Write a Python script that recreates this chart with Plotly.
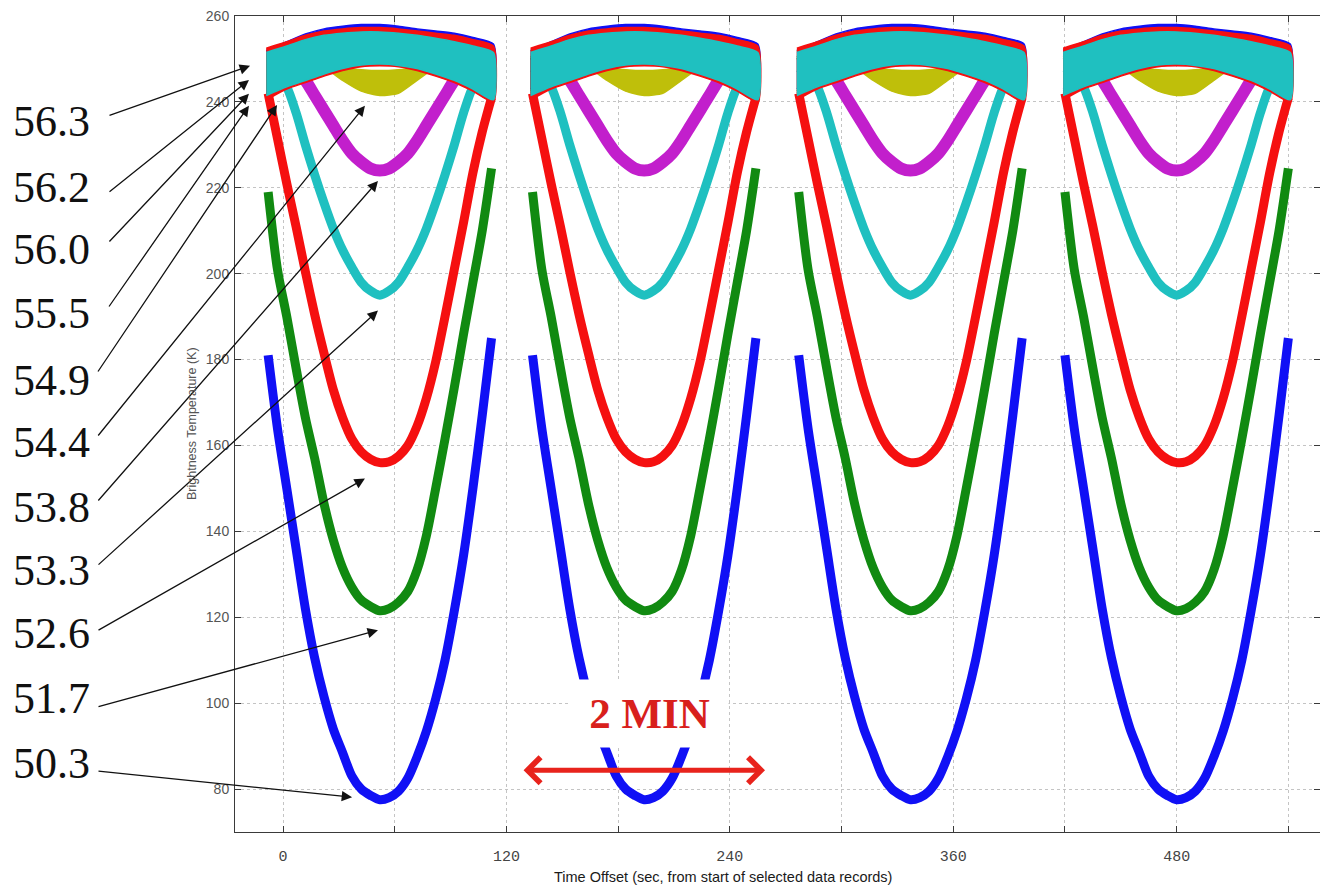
import plotly.graph_objects as go

# ---------------------------------------------------------------------------
# Cross-track scans of an oxygen-band microwave sounder (brightness temperature)
# ---------------------------------------------------------------------------

# centre time of each of the four scans (s from start of selected records)
SCAN_CENTERS = [52, 194, 337, 480]

# sample offsets inside a scan (s, relative to scan centre)
SCAN_OFFSETS = [-60, -55, -50, -45, -40, -35, -30, -25, -20, -15, -10, -5, 0,
                5, 10, 15, 20, 25, 30, 35, 40, 45, 50, 55, 60]
BAND_OFFSETS = [-61, -50, -40, -30, -20, -10, 0, 10, 20, 30, 40, 50, 61]

# window / lower-troposphere channels (K), one value per SCAN_OFFSETS entry
TB_50_3 = [181, 164, 150, 136, 122, 110.5, 101.5, 94, 88.5, 83, 80, 78.5, 77.5,
           78, 79.5, 82.5, 87.5, 93.5, 101, 110, 121.5, 134.5, 150, 167, 185]
TB_51_7 = [219, 201, 190, 178, 166.5, 157, 146.5, 138, 131.5, 127, 124, 122.5, 121.5,
           122, 123.5, 126, 131, 139, 150, 161.5, 173.5, 186, 198, 210, 224.5]
TB_52_6 = [242, 231.5, 221, 211, 200.5, 190.5, 181.5, 173, 166.5, 161.5, 158.5, 156.8, 156,
           156.2, 157.5, 160, 164.5, 171, 179.5, 190, 201, 212, 223.5, 233, 241]
TB_53_3 = [248, 246.5, 243.5, 237.5, 230, 223, 216.5, 210.5, 205.5, 201.5, 198, 196, 195,
           196, 198, 201.5, 205.5, 210.5, 216.5, 223, 230, 237.5, 243.5, 246.5, 248]
TB_53_8 = [250.5, 250, 249, 247.5, 245, 241.5, 238, 234.5, 231, 228, 226, 224.5, 224,
           224.5, 226, 228, 231, 234.5, 238, 241.5, 245, 247.5, 249, 250, 251]

# upper-air channels (K): spread of the noisy samples, one pair per BAND_OFFSETS entry
TB_54_4_LO = [250, 249.5, 249, 248, 245, 242.5, 241.5, 242, 245, 248, 249, 249.5, 250]
TB_54_4_HI = [252, 251, 250, 249, 248, 247.5, 247.3, 247.5, 248, 249, 250, 251, 252]
TB_54_9_LO = [242, 244.2, 245.8, 247.2, 248.4, 249, 249.2, 249, 248.4, 247.2, 245.6, 243.6, 241.2]
TB_54_9_HI = [250, 252, 253.5, 254.5, 255, 255.3, 255.3, 255, 254.5, 254, 253, 252, 250.5]
TB_55_5_LO = [243, 245, 246.5, 248, 249, 249.5, 249.5, 249.5, 249, 248, 246.5, 245, 243]
TB_55_5_HI = [252, 254, 255.8, 257, 257.6, 258, 258, 257.6, 257, 256.5, 256, 255, 253.5]
TB_56_0_LO = [242.5, 244.5, 246, 247.5, 248.5, 249, 249.2, 249, 248.5, 247.5, 246, 244, 242]
TB_56_0_HI = [250.5, 252.5, 254, 255, 255.5, 255.8, 255.8, 255.5, 255, 254.3, 253.5, 252.5, 251]
TB_56_2_LO = [240.5, 243, 244.5, 246, 247.3, 248.2, 248.4, 248.2, 247.3, 246, 244.5, 242.5, 240]
TB_56_2_HI = [252.5, 254, 255.5, 256.5, 257, 257.3, 257.3, 257, 256.5, 256, 255.5, 254.5, 253]
TB_56_3_LO = [241.5, 243.5, 245, 246.5, 247.8, 248.6, 248.8, 248.5, 247.8, 246.5, 245, 243, 240.5]
TB_56_3_HI = [251.5, 253, 254.5, 255.5, 256, 256.3, 256.3, 256, 255.5, 254.8, 254, 253, 251.5]

CHANNEL_LABELS = ["50.3", "51.7", "52.6", "53.3", "53.8", "54.4",
                  "54.9", "55.5", "56.0", "56.2", "56.3"]

# where each channel's callout arrow points (time s, K)
CALLOUT_T = [37.1, 51.0, 44.0, 51.0, 51.0, 44.0, -3.2, -18.3, -18.3, -18.3, -17.7]
CALLOUT_TB = [78.1, 117.0, 152.3, 191.4, 221.6, 239.1, 239.3, 239.1, 241.9, 245.1, 248.4]

TWO_MIN_SPAN = [128.4, 258.9]     # s, extent of the "2 MIN" scale arrow
TWO_MIN_LEVEL = 84.4              # K

X_TICKS = [0, 60, 120, 180, 240, 300, 360, 420, 480, 540]
X_TICK_TEXT = ["0", "", "120", "", "240", "", "360", "", "480", ""]
Y_TICKS = [80, 100, 120, 140, 160, 180, 200, 220, 240, 260]

# ---------------------------------------------------------------------------
# styling
# ---------------------------------------------------------------------------
BLUE, GREEN, RED = "#1010f5", "#118a11", "#f51010"
CYAN, MAGENTA, YELLOW, BLACK = "#1fc0c0", "#c21fcc", "#bfbf0a", "#202020"

FIG_W, FIG_H = 1320, 886
PL, PT, PW, PH = 235, 16, 1085, 816          # plot-area box in pixels
X_RANGE = [-25.8, 557.0]
Y_RANGE = [70, 260]


def to_px(t, tb):
    px = PL + (t - X_RANGE[0]) / (X_RANGE[1] - X_RANGE[0]) * PW
    py = PT + (Y_RANGE[1] - tb) / (Y_RANGE[1] - Y_RANGE[0]) * PH
    return px, py


def paper_x(px):
    return (px - PL) / PW


def paper_y(py):
    return (PT + PH - py) / PH


fig = go.Figure()


def add_line_channel(values, color, width):
    xs, ys = [], []
    for c in SCAN_CENTERS:
        xs += [c + o for o in SCAN_OFFSETS] + [None]
        ys += list(values) + [None]
    fig.add_trace(go.Scatter(
        x=xs, y=ys, mode="lines",
        line=dict(color=color, width=width, shape="spline", smoothing=0.8),
        hoverinfo="skip", showlegend=False))


def add_band_channel(lo, hi, color):
    for c in SCAN_CENTERS:
        xs = [c + o for o in BAND_OFFSETS]
        fig.add_trace(go.Scatter(
            x=xs + xs[::-1], y=list(hi) + list(lo)[::-1],
            mode="lines", fill="toself", fillcolor=color,
            line=dict(color=color, width=1.5, shape="spline", smoothing=0.6),
            hoverinfo="skip", showlegend=False))


# channels in plotting order (later ones drawn on top)
add_line_channel(TB_50_3, BLUE, 9)
add_line_channel(TB_51_7, GREEN, 9)
add_line_channel(TB_52_6, RED, 9)
add_line_channel(TB_53_3, CYAN, 9)
add_line_channel(TB_53_8, MAGENTA, 12)
add_band_channel(TB_54_4_LO, TB_54_4_HI, YELLOW)
add_band_channel(TB_54_9_LO, TB_54_9_HI, BLACK)
add_band_channel(TB_55_5_LO, TB_55_5_HI, BLUE)
add_band_channel(TB_56_0_LO, TB_56_0_HI, GREEN)
add_band_channel(TB_56_2_LO, TB_56_2_HI, RED)
add_band_channel(TB_56_3_LO, TB_56_3_HI, CYAN)

annotations = []

# channel frequency labels (GHz) with arrows to their curves
LABEL_LEFT_PX = 11
LABEL_CENTER_PY = [763, 698, 633, 570, 507, 443, 380, 313, 250, 187, 122]
ARROW_TAIL_PX = [(97, 771), (97, 707), (97, 631), (97, 566), (97, 502), (97, 437),
                 (97, 373), (108, 308), (108, 243), (108, 193), (108, 116)]

for lab, cy, tail, ht, htb in zip(CHANNEL_LABELS, LABEL_CENTER_PY, ARROW_TAIL_PX,
                                   CALLOUT_T, CALLOUT_TB):
    annotations.append(dict(
        text=lab, xref="paper", yref="paper",
        x=paper_x(LABEL_LEFT_PX), y=paper_y(cy),
        xanchor="left", yanchor="middle", showarrow=False,
        font=dict(family="Liberation Serif", size=44, color="#111111")))
    hx, hy = to_px(ht, htb)
    annotations.append(dict(
        text="", xref="x", yref="y", x=ht, y=htb,
        ax=tail[0] - hx, ay=tail[1] - hy, axref="pixel", ayref="pixel",
        showarrow=True, arrowhead=2, arrowsize=1.6, arrowwidth=1.3,
        arrowcolor="#111111", standoff=0))

# "2 MIN" scale bar
annotations.append(dict(
    text="", xref="x", yref="y", x=TWO_MIN_SPAN[1], y=TWO_MIN_LEVEL,
    ax=TWO_MIN_SPAN[0], ay=TWO_MIN_LEVEL, axref="x", ayref="y",
    showarrow=True, arrowside="end+start", arrowhead=4, startarrowhead=4,
    arrowsize=1, startarrowsize=1, arrowwidth=5, arrowcolor="#e8231c"))
annotations.append(dict(
    text="<b>2 MIN</b>", xref="x", yref="y",
    x=sum(TWO_MIN_SPAN) / 2 + 3, y=97.7, showarrow=False,
    xanchor="center", yanchor="middle",
    bgcolor="white", borderpad=10, width=137,
    font=dict(family="Liberation Serif", size=43, color="#d8201c")))

# axis titles
annotations.append(dict(
    text="Time Offset (sec, from start of selected data records)",
    xref="paper", yref="paper", x=paper_x(723), y=paper_y(877),
    xanchor="center", yanchor="middle", showarrow=False,
    font=dict(family="Liberation Sans", size=14.5, color="#1a1a1a")))
annotations.append(dict(
    text="Brightness Temperature (K)", textangle=-90,
    xref="paper", yref="paper", x=paper_x(192), y=paper_y(424),
    xanchor="center", yanchor="middle", showarrow=False,
    font=dict(family="Liberation Sans", size=12.5, color="#555555")))

axis_common = dict(
    showline=True, linecolor="#3a3a3a", linewidth=1, mirror="ticks",
    ticks="inside", ticklen=6, tickcolor="#3a3a3a",
    showgrid=True, gridcolor="#c4c4c4", griddash="dot", gridwidth=1,
    zeroline=False)

fig.update_layout(
    width=FIG_W, height=FIG_H,
    margin=dict(l=PL, r=FIG_W - PL - PW, t=PT, b=FIG_H - PT - PH),
    paper_bgcolor="white", plot_bgcolor="white",
    xaxis=dict(range=X_RANGE, tickvals=X_TICKS, ticktext=X_TICK_TEXT,
               tickfont=dict(family="Liberation Mono", size=15, color="#444444"),
               ticklabelstandoff=10, **axis_common),
    yaxis=dict(range=Y_RANGE, tickvals=Y_TICKS,
               tickfont=dict(family="Liberation Sans", size=14, color="#555555"),
               ticklabelstandoff=2, **axis_common),
    annotations=annotations,
)

fig.write_html("out.html")
